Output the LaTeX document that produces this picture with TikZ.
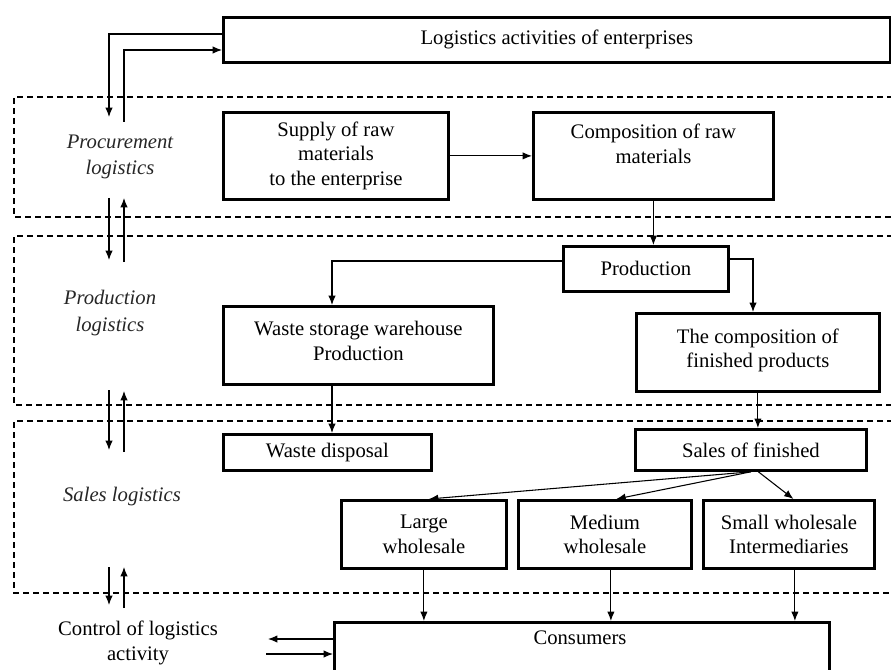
\documentclass[tikz,border=0pt]{standalone}
\usepackage{fontspec}
\setmainfont{Liberation Serif}
\usetikzlibrary{arrows.meta}
\begin{document}
\begin{tikzpicture}[x=0.75pt,y=-0.75pt,
 box/.style={draw, line width=2.1pt, align=center, anchor=north west, inner sep=2pt, font=\fontsize{15.5}{18.5}\selectfont},
 lab/.style={align=center, text=black!85, font=\fontsize{15.5}{20}\selectfont\itshape},
 txt/.style={align=center, font=\fontsize{15.5}{18.5}\selectfont},
 arr/.style={draw, line width=0.8pt, -{Latex[length=7pt,width=5.5pt]}},
 zone/.style={draw, line width=0.9pt, dash pattern=on 4.5pt off 3pt}]
\useasboundingbox (0,0) rectangle (891,670);
\clip (0,0) rectangle (891,670);

% dashed zones
\draw[zone] (893,97) -- (14,97) -- (14,217) -- (893,217);
\draw[zone] (893,236) -- (14,236) -- (14,405) -- (893,405);
\draw[zone] (893,421) -- (14,421) -- (14,593) -- (893,593);

% boxes
\node[box, minimum width=500.25pt, minimum height=33.75pt] (top) at (222,16) {Logistics activities of enterprises};
\node[box, minimum width=168.75pt, minimum height=65.25pt] (supply) at (222,111) {Supply of raw\\materials\\to the enterprise};
\node[box, minimum width=180pt, minimum height=65.25pt] (comp) at (532,111) {Composition of raw\\materials\\\mbox{}};
\node[box, minimum width=123.75pt, minimum height=33.75pt] (prod) at (562,245) {Production};
\node[box, minimum width=202.5pt, minimum height=58.5pt] (waste) at (222,305) {Waste storage warehouse\\Production\\[-12pt]\mbox{}};
\node[box, minimum width=182.25pt, minimum height=58.5pt] (fin) at (635,312) {The composition of\\finished products\\[-12pt]\mbox{}};
\node[box, minimum width=156pt, minimum height=27pt] (disp) at (222,433) {Waste disposal};
\node[box, minimum width=173.25pt, minimum height=30.75pt] (sales) at (634,428) {Sales of finished};
\node[box, minimum width=123.75pt, minimum height=51pt] (large) at (340,499) {Large\\wholesale};
\node[box, minimum width=129.75pt, minimum height=51pt] (medium) at (517,499) {Medium\\wholesale};
\node[box, minimum width=128.25pt, minimum height=51pt] (small) at (702,499) {Small wholesale\\Intermediaries};
\node[box, minimum width=371.25pt, minimum height=59.25pt] (cons) at (333,621) {};
\node[txt] (constxt) at (580,638) {Consumers};

% side labels
\node[lab] (procl) at (120,157) {Procurement\\logistics};
\node[lab] (prodl) at (110,313) {Production\\logistics};
\node[lab] (salesl) at (122,497) {Sales logistics};
\node[txt] (ctrl) at (138,643) {Control of logistics\\activity};

% main flow
\draw[arr] (supply.east) -- (supply.east -| comp.west);
\draw[arr] (comp.south) -- (comp.south |- prod.north);
\coordinate (pw) at (332,261);
\coordinate (pe) at (753,259);
\draw[arr] (prod.west |- pw) -- (pw) -- (pw |- waste.north);
\draw[arr] (prod.east |- pe) -- (pe) -- (pe |- fin.north);
\draw[arr] (pw |- waste.south) -- (pw |- disp.north);
\draw[arr] (fin.south) -- (fin.south |- sales.north);
\draw[arr] (sales.south) -- ([xshift=3.75pt]large.north);
\draw[arr] (sales.south) -- ([xshift=8.6pt]medium.north);
\draw[arr] ([xshift=5.6pt]sales.south) -- ([xshift=3.4pt]small.north);
\draw[arr] (large.south) -- (large.south |- cons.north);
\draw[arr] ([xshift=4.5pt]medium.south) -- ([xshift=4.5pt]medium.south |- cons.north);
\draw[arr] ([xshift=4.5pt]small.south) -- ([xshift=4.5pt]small.south |- cons.north);

% top feedback arrows
\coordinate (ta) at (109,34);
\coordinate (tb) at (109,117);
\draw[arr] (top.west |- ta) -- (ta) -- (tb);
\coordinate (tc) at (124,122);
\coordinate (td) at (124,50);
\draw[arr] (tc) -- (td) -- (td -| top.west);

% arrows between zones
\coordinate (a1) at (109,198); \coordinate (a2) at (109,260);
\coordinate (b1) at (124,262); \coordinate (b2) at (124,198);
\draw[arr] (a1) -- (a2);
\draw[arr] (b1) -- (b2);
\coordinate (a3) at (109,390); \coordinate (a4) at (109,450);
\coordinate (b3) at (124,452); \coordinate (b4) at (124,391);
\draw[arr] (a3) -- (a4);
\draw[arr] (b3) -- (b4);
\coordinate (a5) at (109,567); \coordinate (a6) at (109,605);
\coordinate (b5) at (124,608); \coordinate (b6) at (124,567);
\draw[arr] (a5) -- (a6);
\draw[arr] (b5) -- (b6);

% consumers side arrows
\coordinate (ca) at (268,639);
\coordinate (cb) at (266,654);
\draw[arr] (cons.west |- ca) -- (ca);
\draw[arr] (cb) -- (cb -| cons.west);
\end{tikzpicture}
\end{document}
